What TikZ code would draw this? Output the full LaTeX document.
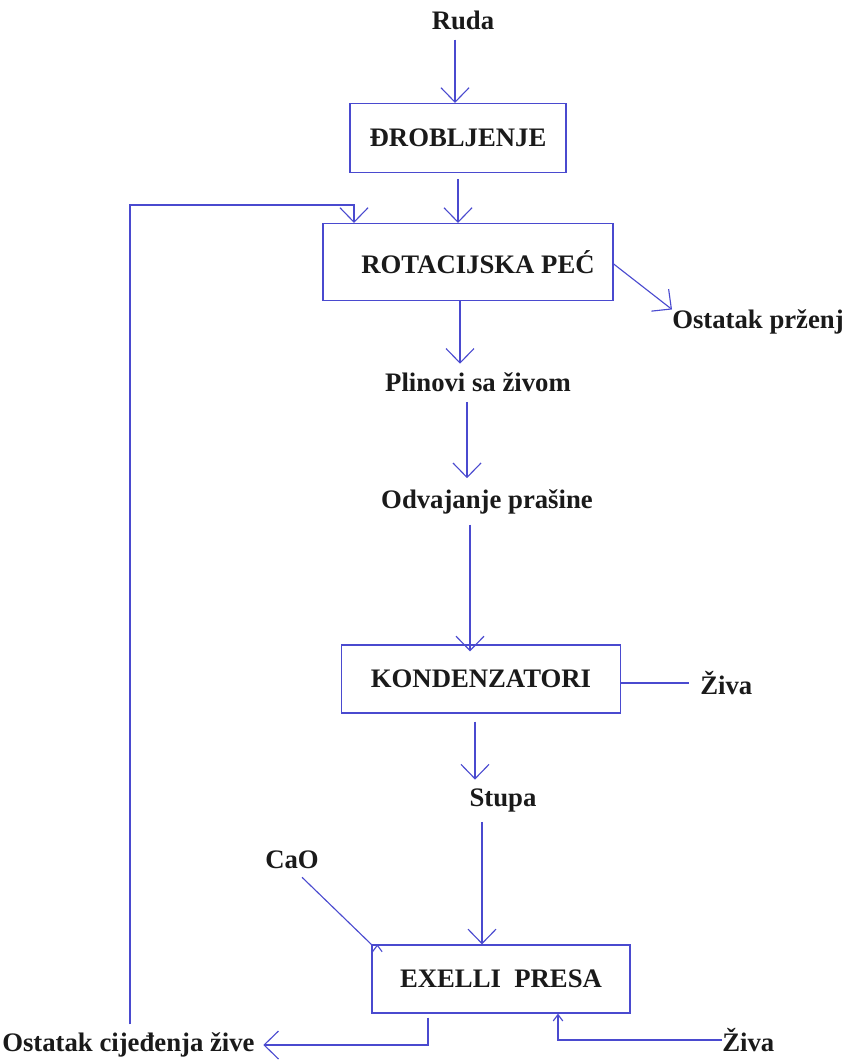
\documentclass[tikz,border=0pt]{standalone}
\usepackage{fontspec}
\setmainfont{Liberation Serif}
\usepackage{xcolor}
\usetikzlibrary{arrows.meta, positioning}
\definecolor{flowblue}{HTML}{4A4ACF}
\definecolor{textblack}{HTML}{1A1A1A}

\begin{document}
\begin{tikzpicture}[
  x=0.025cm, y=-0.025cm,
  box/.style={rectangle, draw=flowblue, line width=0.9pt, inner sep=0pt,
               align=center, font=\fontsize{19}{22}\selectfont\bfseries\color{textblack}},
  arrow/.style={-{Straight Barb[length=3.6mm, width=7mm]}, line width=0.8pt, color=flowblue},
  tick/.style={-{Straight Barb[length=1.6mm, width=2.4mm]}, line width=0.8pt, color=flowblue},
  link/.style={line width=0.8pt, color=flowblue},
  txt/.style={inner sep=0pt, font=\fontsize{19}{22}\selectfont\bfseries\color{textblack}}
]
  \useasboundingbox (0,0) rectangle (845,1064);

  % process boxes
  \node[box, minimum width=5.4cm, minimum height=1.72cm] (drob)  at (458,138) {ĐROBLJENJE};
  \node[box, minimum width=7.25cm, minimum height=1.92cm] (kiln) at (468,262) {\hspace*{0.5cm}ROTACIJSKA PEĆ};
  \node[box, minimum width=6.98cm, minimum height=1.7cm] (kond)  at (481,679) {KONDENZATORI};
  \node[box, minimum width=6.45cm, minimum height=1.7cm] (presa) at (501,979) {EXELLI\ \ PRESA};

  % streams
  \node[txt] (ruda)  at (463,20)  {Ruda};
  \node[txt, anchor=west] (ostp) at (672,322) {Ostatak prženj};
  \node[txt] (plin)  at (478,382) {Plinovi sa živom};
  \node[txt] (odv)   at (487,502) {Odvajanje prašine};
  \node[txt, anchor=west] (ziva1) at (700,683) {Živa};
  \node[txt] (stupa) at (503,800) {Stupa};
  \node[txt] (cao)   at (292,860) {CaO};
  \node[txt, anchor=west] (ostc) at (2,1045) {Ostatak cijeđenja žive};
  \node[txt, anchor=west] (ziva2) at (722,1040) {Živa};

  \coordinate (back) at (130,205);

  \draw[arrow] (ruda.south -| 455,0) ++(0,10) -- (drob.north -| 455,0);
  \draw[arrow] (drob.south -| 458,0) ++(0,6) -- (kiln.north -| 458,0);
  \draw[arrow] (ostc.north -| back) ++(0,-8) -- (back) -| (kiln.north -| 354,0);
  \draw[arrow] (kiln.east) ++(0,2) -- (ostp.north west);
  \draw[arrow, shorten >=6pt] (kiln.south -| 460,0) -- (plin.north -| 460,0);
  \draw[arrow, shorten >=8pt] (plin.south -| 467,0) ++(0,10) -- (odv.north -| 467,0);
  \draw[arrow] (odv.south -| 470,0) ++(0,10) -- ([yshift=-5]kond.north -| 470,0);
  \draw[link] (ziva1.west -| kond.east) -- ([xshift=-8]ziva1.west);
  \draw[arrow, shorten >=6pt] (kond.south -| 475,0) ++(0,8) -- (stupa.north -| 475,0);
  \draw[arrow] (stupa.south -| 482,0) ++(0,10) -- (presa.north -| 482,0);
  \draw[tick] (cao.south) ++(10,8) -- (presa.north west) ++(6,0);
  \draw[arrow, shorten >=6pt] (presa.south -| 428,0) ++(0,4) |- (ostc.east);
  \draw[tick] (ziva2.west) -- (ziva2.west -| 558,0) -- (presa.south -| 558,0);
\end{tikzpicture}
\end{document}
